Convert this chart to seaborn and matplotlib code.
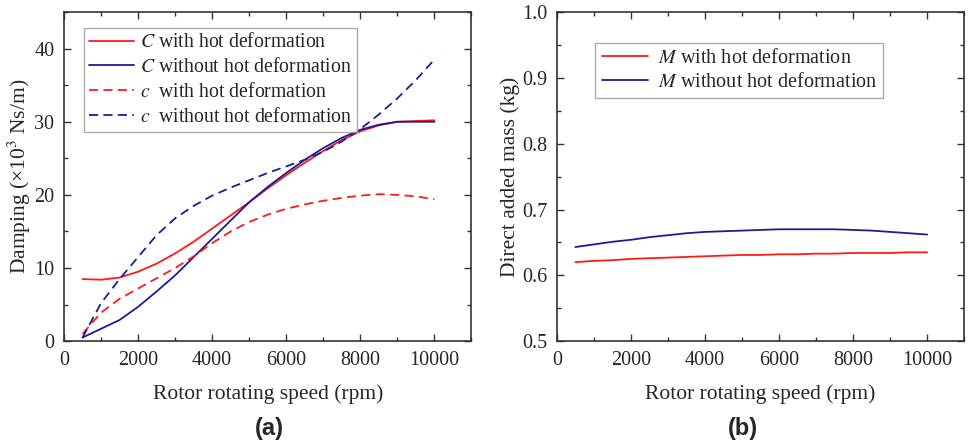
import numpy as np
import pandas as pd
import matplotlib
matplotlib.use("Agg")
import matplotlib.pyplot as plt
import seaborn as sns
from matplotlib.ticker import MultipleLocator

# rotor speed (rpm)
speed = [500, 1000, 1500, 2000, 2500, 3000, 3500, 4000, 4500, 5000,
         5500, 6000, 6500, 7000, 7500, 8000, 8500, 9000, 9500, 10000]

# damping (x10^3 Ns/m)
C_hot = [8.5, 8.4, 8.7, 9.5, 10.6, 12.0, 13.6, 15.4, 17.2, 19.0,
         20.9, 22.7, 24.4, 26.0, 27.5, 28.7, 29.5, 30.0, 30.1, 30.2]
C_cold = [0.5, 1.7, 2.9, 4.7, 6.8, 9.0, 11.5, 14.0, 16.5, 19.0,
          21.1, 23.0, 24.8, 26.4, 27.8, 28.9, 29.6, 30.0, 30.0, 30.0]
c_hot = [1.0, 3.9, 5.8, 7.2, 8.6, 10.0, 11.6, 13.4, 15.0, 16.3,
         17.3, 18.1, 18.7, 19.2, 19.6, 19.9, 20.1, 20.0, 19.8, 19.4]
c_cold = [0.5, 5.2, 8.5, 11.5, 14.5, 16.8, 18.5, 19.9, 21.0, 22.0,
          23.0, 23.9, 24.8, 25.9, 27.3, 29.0, 31.0, 33.2, 35.7, 38.5]

# direct added mass (kg)
M_hot = [0.620, 0.622, 0.623, 0.625, 0.626, 0.627, 0.628, 0.629, 0.630, 0.631,
         0.631, 0.632, 0.632, 0.633, 0.633, 0.634, 0.634, 0.634, 0.635, 0.635]
M_cold = [0.643, 0.647, 0.651, 0.654, 0.658, 0.661, 0.664, 0.666, 0.667, 0.668,
          0.669, 0.670, 0.670, 0.670, 0.670, 0.669, 0.668, 0.666, 0.664, 0.662]

RED = "#ff1a1a"
BLUE = "#1c1c96"

sns.set_style("ticks")
plt.rcParams["font.family"] = ["Liberation Serif", "DejaVu Serif"]
plt.rcParams["mathtext.fontset"] = "stix"


def style_axes(ax):
    ax.set_xlim(0, 11000)
    ax.xaxis.set_major_locator(MultipleLocator(2000))
    ax.xaxis.set_minor_locator(MultipleLocator(1000))
    ax.tick_params(which="both", direction="in", top=True, right=True,
                   labelsize=14.5, width=1.0, color="#333333", pad=7)
    ax.tick_params(which="major", length=5)
    ax.tick_params(which="minor", length=3)
    for s in ax.spines.values():
        s.set_linewidth(1.2)
        s.set_color("#333333")
    ax.set_xlabel("Rotor rotating speed (rpm)", fontsize=15.5, labelpad=10)


fig = plt.figure(figsize=(9.7, 4.46), dpi=100)
ax1 = fig.add_axes([0.066, 0.235, 0.42, 0.738])
ax2 = fig.add_axes([0.574, 0.235, 0.42, 0.738])

sns.lineplot(x=speed, y=C_hot, ax=ax1, color=RED, lw=1.3, label="$C$ with hot deformation")
sns.lineplot(x=speed, y=C_cold, ax=ax1, color=BLUE, lw=1.3, label="$C$ without hot deformation")
sns.lineplot(x=speed, y=c_hot, ax=ax1, color=RED, lw=1.3, ls=(0, (5, 3)), label="$c$  with hot deformation")
sns.lineplot(x=speed, y=c_cold, ax=ax1, color=BLUE, lw=1.3, ls=(0, (5, 3)), label="$c$  without hot deformation")
style_axes(ax1)
ax1.set_ylim(0, 45)
ax1.yaxis.set_major_locator(MultipleLocator(10))
ax1.yaxis.set_minor_locator(MultipleLocator(5))
ax1.set_ylabel("Damping (×10$^3$ Ns/m)", fontsize=15.5, labelpad=1)
leg1 = ax1.legend(loc="upper left", bbox_to_anchor=(0.048, 0.95), fontsize=14.2,
                  handlelength=2.3, handletextpad=0.3, labelspacing=0.3,
                  fancybox=False, edgecolor="#999999", borderpad=0.25, borderaxespad=0)
leg1.get_frame().set_linewidth(1.0)

sns.lineplot(x=speed, y=M_hot, ax=ax2, color=RED, lw=1.3, label="$M$ with hot deformation")
sns.lineplot(x=speed, y=M_cold, ax=ax2, color=BLUE, lw=1.3, label="$M$ without hot deformation")
style_axes(ax2)
ax2.set_ylim(0.5, 1.0)
ax2.yaxis.set_major_locator(MultipleLocator(0.1))
ax2.yaxis.set_minor_locator(MultipleLocator(0.05))
ax2.set_ylabel("Direct added mass (kg)", fontsize=15.5, labelpad=1)
leg2 = ax2.legend(loc="upper left", bbox_to_anchor=(0.095, 0.906), fontsize=14.5,
                  handlelength=2.3, handletextpad=0.5, labelspacing=0.25,
                  fancybox=False, edgecolor="#999999", borderpad=0.3, borderaxespad=0)
leg2.get_frame().set_linewidth(1.0)

fig.text(0.278, 0.04, "(a)", fontsize=17, fontweight="bold",
         family="Liberation Sans", ha="center", va="center")
fig.text(0.766, 0.04, "(b)", fontsize=17, fontweight="bold",
         family="Liberation Sans", ha="center", va="center")

fig.savefig("out.png", dpi=100)
